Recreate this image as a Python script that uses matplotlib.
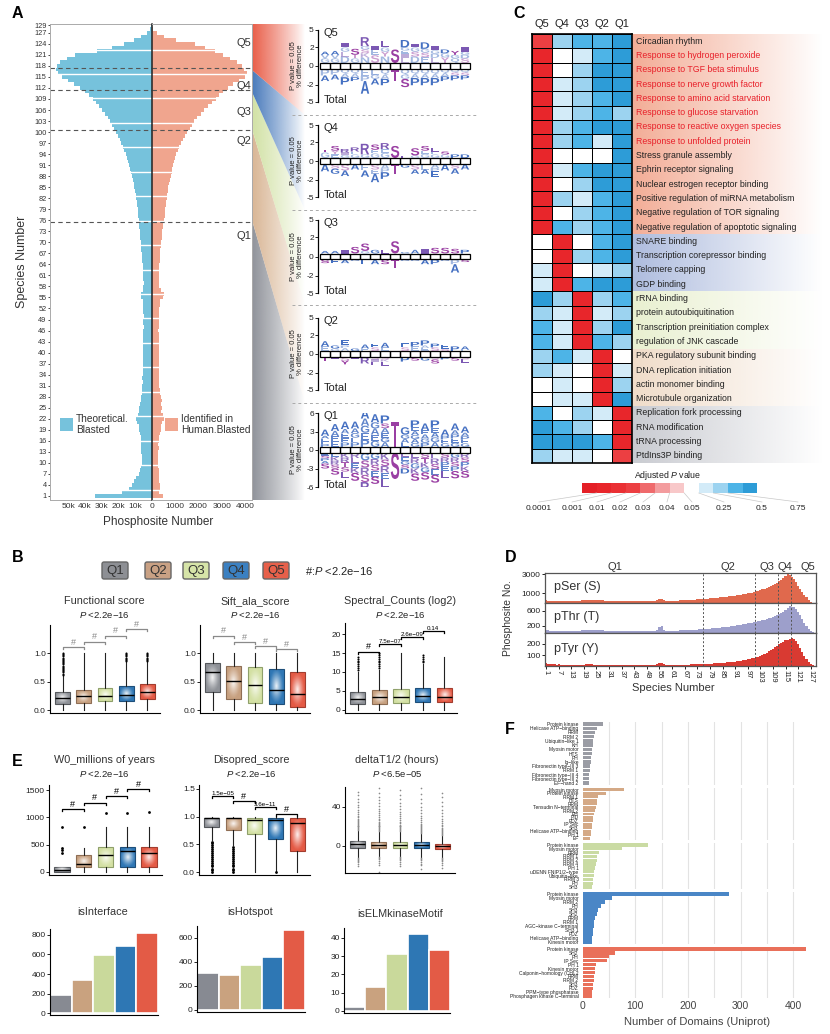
import numpy as np
import matplotlib
matplotlib.use("Agg")
import matplotlib.pyplot as plt
from matplotlib.patches import Rectangle, Polygon, PathPatch, FancyBboxPatch
from matplotlib.textpath import TextPath
from matplotlib.font_manager import FontProperties
from matplotlib.colors import ListedColormap, to_rgb
from matplotlib.transforms import Affine2D
from matplotlib.ticker import NullLocator

plt.rcParams['font.family'] = ['Liberation Sans', 'DejaVu Sans']
plt.rcParams['mathtext.fontset'] = 'custom'
plt.rcParams['mathtext.rm'] = 'Liberation Sans'
plt.rcParams['mathtext.it'] = 'Liberation Sans:italic'
plt.rcParams['axes.linewidth'] = 0.8

# ======================= DATA =======================
quartiles = ['Q1', 'Q2', 'Q3', 'Q4', 'Q5']
quartile_bounds = [75.5, 100.5, 111.5, 117.5]
species = np.arange(1, 130)

theoretical_blasted = [
    34000, 18000, 13500, 12000, 11000, 9500, 7500, 7000, 6500, 6200,
    6000, 6200, 6300, 6500, 6800, 6500, 6800, 7200, 7500, 8000,
    9000, 9500, 8500, 8000, 7500, 7000, 6800, 6500, 6200, 6000,
    5800, 5600, 5700, 5500, 5400, 5600, 5500, 5400, 5300, 5400,
    5200, 5300, 5100, 5200, 5400, 5100, 5000, 5200, 5100, 5000,
    5100, 5300, 5400, 5600, 6500, 6800, 5600, 5200, 5000, 5100,
    5200, 5300, 5400, 5500, 5700, 5900, 6100, 6300, 6500, 6700,
    6900, 7100, 7300, 7500, 7700, 7900, 8100, 8300, 8500, 8800,
    9100, 9400, 9800, 10200, 10600, 11000, 11500, 12000, 12500, 13000,
    13700, 14300, 15000, 15800, 16600, 17400, 18300, 19300, 20300, 21400,
    22500, 23700, 25000, 26500, 28000, 29700, 31500, 33500, 35500, 37800,
    40200, 43000, 46500, 50000, 54000, 56500, 57500, 57000, 55000, 51000,
    46000, 33000, 24000, 17000, 11000, 6500, 3000, 1000, 300]

identified_human = [
    480, 300, 330, 350, 300, 280, 300, 320, 260, 240,
    250, 270, 260, 280, 270, 300, 320, 330, 380, 400,
    450, 520, 480, 400, 420, 380, 430, 400, 350, 330,
    300, 310, 290, 300, 280, 300, 320, 290, 300, 310,
    300, 290, 300, 310, 290, 270, 300, 290, 280, 300,
    310, 320, 330, 350, 480, 500, 380, 300, 290, 300,
    280, 300, 310, 320, 330, 340, 350, 360, 380, 400,
    420, 430, 450, 470, 480, 520, 540, 560, 580, 600,
    620, 640, 660, 680, 700, 730, 760, 800, 840, 880,
    920, 960, 1000, 1050, 1100, 1170, 1250, 1330, 1420, 1520,
    1620, 1720, 1820, 1950, 2100, 2250, 2400, 2580, 2750, 2900,
    3050, 3250, 3480, 3750, 3980, 4080, 3950, 3850, 3650, 3350,
    3050, 2700, 2280, 1850, 1050, 500, 200, 60, 20]

# Sequence logos: per quartile, 15 positions (-7..+7)
logo_Q5 = dict(
    up_main="AAISRILSDIDIDYI",
    up_main_h=[0.4, 0.5, 0.7, 0.8, 1.5, 0.5, 1.0, 1.5, 1.2, 0.6, 1.0, 0.6, 0.5, 0.5, 0.6],
    up_minor=["GV", "GV", "DLG", "GT", "NKSG", "SE", "NYG", "", "LIEG", "DSG", "ESG", "LDG", "YG", "QG", "SDG"],
    up_minor_h=[0.8, 0.8, 1.8, 0.8, 2.0, 1.5, 1.8, 0, 1.8, 1.8, 1.6, 1.4, 1.0, 0.8, 1.2],
    dn_main="AAPPAAPTSPPPPPP",
    dn_main_h=[0.7, 0.6, 1.0, 0.5, 2.0, 0.8, 0.9, 1.3, 1.2, 1.0, 1.0, 1.0, 0.6, 0.6, 0.5],
    dn_minor=["P", "P", "QA", "QA", "EP", "EG", "QA", "", "QG", "QA", "QA", "QA", "QA", "QS", "QS"],
    dn_minor_h=[0.6, 0.5, 0.8, 0.8, 1.3, 1.0, 1.0, 0, 1.0, 0.9, 0.9, 0.9, 0.7, 0.6, 0.6])
logo_Q4 = dict(
    up_main="TSRRRSRSLSSLSPD",
    up_main_h=[0.3, 0.6, 0.4, 0.5, 1.3, 0.7, 0.8, 1.3, 0.2, 0.8, 0.6, 0.4, 0.3, 0.3, 0.3],
    up_minor=["G", "EY", "GI", "GE", "G", "GE", "GE", "", "", "G", "GE", "GE", "G", "", ""],
    up_minor_h=[0.5, 0.7, 0.5, 0.6, 0.3, 0.8, 0.9, 0, 0, 0.2, 0.7, 0.6, 0.3, 0, 0],
    dn_main="AGAAAAPTGAAEAAA",
    dn_main_h=[0.7, 0.6, 0.7, 0.5, 0.8, 1.2, 0.9, 1.0, 0.3, 0.5, 0.5, 0.7, 0.6, 0.6, 0.5],
    dn_minor=["", "S", "S", "", "E", "SE", "AP", "", "", "S", "E", "AP", "", "S", ""],
    dn_minor_h=[0, 0.4, 0.6, 0, 0.6, 1.0, 0.8, 0, 0, 0.5, 0.5, 0.7, 0, 0.4, 0])
logo_Q3 = dict(
    up_main="AAISSGLSGAISSSP",
    up_main_h=[0.2, 0.2, 0.3, 0.6, 0.8, 0.3, 0.3, 1.3, 0.1, 0.3, 0.4, 0.5, 0.5, 0.4, 0.3],
    up_minor=["", "", "", "", "G", "", "", "", "", "", "", "", "", "", ""],
    up_minor_h=[0, 0, 0, 0, 0.2, 0, 0, 0, 0, 0, 0, 0, 0, 0, 0],
    dn_main="SEAGEASTGGAPGAS",
    dn_main_h=[0.3, 0.3, 0.3, 0.1, 0.4, 0.4, 0.4, 0.8, 0.1, 0.1, 0.4, 0.4, 0.1, 1.0, 0.2],
    dn_minor=["", "", "", "", "", "", "", "", "", "", "", "", "", "P", ""],
    dn_minor_h=[0, 0, 0, 0, 0, 0, 0, 0, 0, 0, 0, 0, 0, 0.4, 0])
logo_Q2 = dict(
    up_main="AGEGAEA EPPPEPA",
    up_main_h=[0.6, 0.3, 0.7, 0.2, 0.4, 0.4, 0.5, 0, 0.5, 0.5, 0.6, 0.4, 0.4, 0.4, 0.3],
    up_minor=["E", "G", "AP", "", "E", "S", "E", "", "S", "E", "EA", "S", "S", "", "E"],
    up_minor_h=[0.4, 0.2, 0.5, 0, 0.2, 0.3, 0.3, 0, 0.3, 0.4, 0.5, 0.3, 0.2, 0, 0.1],
    dn_main="TIYIRLL PSGSPSL",
    dn_main_h=[0.3, 0.2, 0.4, 0.2, 0.6, 0.4, 0.5, 0, 0.4, 0.3, 0.3, 0.4, 0.2, 0.3, 0.3],
    dn_minor=["", "", "S", "", "", "SI", "SK", "", "", "", "", "S", "", "", "S"],
    dn_minor_h=[0, 0, 0.3, 0, 0, 0.4, 0.4, 0, 0, 0, 0, 0.2, 0, 0, 0.2])
logo_Q1 = dict(
    up_main="AAAAAAPTGPAPAAA",
    up_main_h=[1.0, 1.1, 1.2, 1.1, 1.4, 1.3, 1.3, 4.0, 1.2, 1.1, 1.1, 1.2, 1.0, 1.1, 1.0],
    up_minor=["PEEA", "EEA", "PEEA", "PEGA", "PEGA", "GEAG", "AGEAS", "", "EAG", "GAGAE", "PGAE", "AGAE", "GEP", "GEPA", "GEPA"],
    up_minor_h=[1.8, 2.6, 2.9, 3.0, 4.6, 4.0, 3.8, 0, 2.0, 3.2, 2.7, 3.1, 1.8, 2.7, 2.3],
    dn_main="SSLSRSLSDSSSLSS",
    dn_main_h=[0.8, 1.0, 1.0, 1.3, 1.5, 1.2, 1.3, 4.2, 0.8, 1.2, 1.2, 1.3, 1.1, 1.2, 1.1],
    dn_minor=["ESPA", "EKRS", "KRTS", "RLEK", "GSRS", "GRSE", "KSRE", "", "LEGS", "LRGK", "STKG", "LRSE", "SRPE", "GRSP", "RSPK"],
    dn_minor_h=[1.7, 2.5, 3.0, 3.2, 4.7, 3.8, 4.2, 0, 2.5, 3.3, 3.1, 3.5, 2.9, 2.9, 2.9])

# Panel C: GO terms and adjusted P-value level (index into legend colours), columns Q5..Q1
go_terms = ["Circadian rhythm", "Response to hydrogen peroxide", "Response to TGF beta stimulus",
            "Response to nerve growth factor", "Response to amino acid starvation",
            "Response to glucose starvation", "Response to reactive oxygen species",
            "Response to unfolded protein", "Stress granule assembly", "Ephrin receptor signaling",
            "Nuclear estrogen receptor binding", "Positive regulation of miRNA metabolism",
            "Negative regulation of TOR signaling", "Negative regulation of apoptotic signaling",
            "SNARE binding", "Transcription corepressor binding", "Telomere capping", "GDP binding",
            "rRNA binding", "protein autoubiquitination", "Transcription preinitiation complex",
            "regulation of JNK cascade", "PKA regulatory subunit binding", "DNA replication initiation",
            "actin monomer binding", "Microtubule organization", "Replication fork processing",
            "RNA modification", "tRNA processing", "PtdIns3P binding"]
go_red_terms = [1, 2, 3, 4, 5, 6, 7]
heat_columns = ['Q5', 'Q4', 'Q3', 'Q2', 'Q1']
heat_levels = [
    [3, 9, 10, 10, 11], [1, 7, 8, 10, 11], [1, 7, 9, 11, 11], [1, 8, 9, 11, 11],
    [1, 8, 9, 10, 11], [1, 8, 9, 10, 9], [1, 9, 10, 11, 11], [1, 9, 10, 8, 11],
    [1, 7, 7, 7, 11], [1, 8, 10, 11, 11], [1, 7, 9, 11, 11], [1, 9, 8, 10, 11],
    [1, 7, 9, 10, 11], [1, 10, 9, 10, 11], [7, 1, 7, 10, 11], [7, 1, 9, 10, 11],
    [8, 1, 7, 8, 9], [8, 1, 10, 11, 11], [11, 9, 1, 9, 10], [9, 8, 1, 8, 9],
    [10, 8, 1, 9, 11], [10, 8, 1, 10, 9], [9, 10, 8, 1, 7], [9, 8, 7, 1, 8],
    [7, 8, 7, 1, 9], [7, 8, 8, 1, 11], [10, 7, 9, 8, 1], [11, 10, 9, 7, 1],
    [11, 11, 11, 10, 1], [9, 8, 8, 7, 3]]
pval_colors = ['#e41f26', '#e8262b', '#ea3034', '#ec3f42', '#ef6a6c', '#f39c9e',
               '#f8c8c9', '#ffffff', '#d3ebf8', '#9cd3f0', '#4db4e7', '#2d9cd7']
pval_labels = ['0.0001', '0.001', '0.01', '0.02', '0.03', '0.04', '0.05', '0.25', '0.5', '0.75']

# Panel B box statistics
B1_q1 = [0.105, 0.13, 0.155, 0.165, 0.19]
B1_med = [0.22, 0.24, 0.25, 0.27, 0.31]
B1_q3 = [0.32, 0.35, 0.38, 0.42, 0.45]
B1_lo = [0, 0, 0, 0, 0]
B1_hi = [0.6, 1.0, 1.0, 0.84, 0.84]
B1_fliers = [[0.62, 0.64, 0.66, 0.68, 0.7, 0.72, 0.74, 0.76, 0.78, 0.8, 0.82, 0.84, 0.86, 0.88, 0.9, 0.92, 0.94, 0.96, 0.98, 1.0],
             [], [], [0.86, 0.88, 0.9, 0.92, 0.94, 0.96, 0.98, 1.0], [0.86, 0.88, 0.9, 0.92, 0.94, 0.96, 0.98, 1.0]]
B1_brackets = [1.10, 1.20, 1.30, 1.42]
B2_q1 = [0.32, 0.19, 0.13, 0.10, 0.05]
B2_med = [0.66, 0.51, 0.44, 0.35, 0.29]
B2_q3 = [0.82, 0.77, 0.75, 0.72, 0.66]
B2_lo = [0, 0, 0, 0, 0]
B2_hi = [1.0, 1.0, 1.0, 1.0, 1.0]
B2_fliers = [[], [], [], [], []]
B2_brackets = [1.30, 1.19, 1.12, 1.07]
B3_q1 = [1.6, 1.6, 1.8, 2.1, 2.1]
B3_med = [2.9, 3.3, 3.3, 3.6, 3.5]
B3_q3 = [4.8, 5.2, 5.5, 5.7, 5.8]
B3_lo = [0, 0, 0, 0, 0]
B3_hi = [10, 10.5, 15, 12, 14]
B3_fliers = [[10.5, 11, 11.5, 12, 12.5, 13, 13.5, 14], [11, 11.5, 12, 12.5, 13, 13.5, 14, 14.5, 15], [],
             [12.5, 13, 13.5, 14, 14.5], []]
B3_brackets = [15.3, 17.4, 19.2, 20.8]
B3_bracket_labels = ['#', '7.5e−07', '2.6e−09', '0.14']

# Panel E box statistics
E1_q1 = [0, 98, 98, 98, 98]
E1_med = [30, 150, 311, 385, 355]
E1_q3 = [100, 311, 452, 452, 452]
E1_lo = [0, 0, 0, 0, 0]
E1_hi = [100, 434, 830, 830, 830]
E1_fliers = [[350, 400, 440, 830], [830], [1090], [1090], [1100]]
E1_brackets = [1148, 1270, 1392, 1520]
E2_q1 = [0.81, 0.76, 0.68, 0.59, 0.38]
E2_med = [0.97, 0.97, 0.94, 0.93, 0.89]
E2_q3 = [0.98, 0.98, 0.98, 0.98, 0.97]
E2_lo = [0.58, 0.48, 0, 0, 0]
E2_hi = [1.0, 1.0, 1.0, 1.0, 1.0]
E2_fliers = [[0.0, 0.03, 0.06, 0.1, 0.13, 0.17, 0.2, 0.24, 0.27, 0.31, 0.34, 0.38, 0.41, 0.45, 0.48, 0.52, 0.55],
             [0.0, 0.03, 0.06, 0.1, 0.13, 0.17, 0.2, 0.24, 0.27, 0.31, 0.34, 0.38, 0.41, 0.45], [], [0.0], []]
E2_brackets = [1.37, 1.28, 1.17, 1.04]
E2_bracket_labels = ['1.5e−05', '#', '3.6e−11', '#']
E3_q1 = [-2.4, -1.7, -1.7, -2.4, -2.7]
E3_med = [2.0, 1.5, 1.5, 1.5, 0.5]
E3_q3 = [5.5, 4.4, 4.4, 3.7, 2.4]
E3_lo = [-11, -10, -10, -11, -11]
E3_hi = [15, 14, 14, 12, 10]
E3_fliers = [
    [16, 17, 18, 19, 20, 21, 22, 23, 24, 25, 26, 27, 28, 30, 31, 33, 35, 37, 40, 42, 45, 48, 52, 55.7, -12, -13, -14, -15, -16, -18, -21],
    [15, 16, 17, 18, 19, 20, 21, 22, 23, 24, 25, 27, 28, 30, 32, 34, 36, 38, 41, 44, 47, 50, 54, 59, -11, -12, -13, -15, -17, -20, -27],
    [15, 16, 17, 18, 19, 20, 21, 22, 24, 25, 27, 29, 31, 33, 35, 38, 41, 44, 48, 52, 57, -11, -12, -13, -14, -16, -18, -21],
    [13, 14, 15, 16, 17, 18, 19, 20, 22, 23, 25, 27, 29, 31, 34, 37, 40, 44, 48, 53, 59, -12, -13, -14, -16, -18, -20, -24],
    [11, 12, 13, 14, 15, 16, 17, 18, 20, 22, 24, 26, 28, 31, 34, 37, 41, 45, 50, 54, -12, -13, -14, -15, -17, -19, -23]]

# Panel E bar charts
isInterface = [180, 340, 590, 685, 825]
isHotspot = [305, 295, 375, 440, 665]
isELMkinaseMotif = [2, 13, 31, 42, 33.5]

# Panel D
pSer = [
    320, 260, 250, 240, 220, 200, 210, 230, 200, 190,
    200, 210, 220, 230, 240, 250, 260, 270, 280, 300,
    320, 340, 310, 290, 280, 270, 290, 280, 260, 250,
    240, 230, 240, 230, 220, 230, 240, 230, 220, 230,
    220, 230, 220, 230, 220, 210, 220, 230, 220, 230,
    240, 250, 260, 280, 380, 400, 300, 250, 240, 230,
    230, 240, 250, 260, 270, 280, 290, 300, 310, 320,
    330, 350, 370, 390, 410, 430, 450, 470, 490, 510,
    530, 550, 570, 590, 610, 630, 660, 690, 720, 750,
    780, 810, 840, 880, 920, 960, 1000, 1050, 1100, 1160,
    1220, 1280, 1350, 1430, 1520, 1610, 1700, 1800, 1900, 2000,
    2150, 2300, 2450, 2650, 2850, 3000, 2900, 2750, 2500, 2200,
    1800, 1500, 1150, 850, 600, 350, 150, 50, 20]
pThr = [
    90, 70, 60, 60, 55, 50, 55, 60, 55, 50,
    50, 55, 55, 60, 60, 65, 65, 70, 70, 75,
    80, 85, 80, 75, 70, 70, 75, 70, 65, 65,
    60, 60, 65, 60, 60, 60, 62, 60, 58, 60,
    58, 60, 58, 60, 58, 56, 58, 60, 58, 60,
    62, 64, 66, 70, 170, 200, 90, 65, 62, 60,
    60, 62, 64, 66, 68, 70, 72, 75, 78, 80,
    84, 88, 92, 96, 100, 105, 110, 115, 120, 125,
    130, 135, 140, 146, 152, 158, 165, 172, 180, 188,
    196, 205, 214, 224, 234, 245, 256, 268, 280, 292,
    305, 318, 332, 346, 360, 376, 392, 410, 430, 450,
    475, 500, 530, 570, 620, 680, 720, 700, 690, 650,
    560, 470, 380, 280, 180, 100, 50, 20, 8]
pTyr = [
    25, 20, 22, 18, 15, 12, 14, 12, 10, 12,
    10, 12, 11, 12, 10, 11, 12, 13, 12, 14,
    15, 16, 14, 12, 11, 10, 12, 11, 10, 10,
    9, 10, 9, 10, 9, 9, 10, 9, 8, 9,
    9, 10, 9, 9, 8, 9, 10, 9, 8, 9,
    10, 11, 12, 14, 25, 28, 14, 10, 9, 9,
    9, 10, 10, 11, 11, 12, 12, 13, 13, 14,
    14, 15, 15, 16, 17, 18, 19, 20, 21, 22,
    23, 24, 25, 26, 28, 30, 32, 34, 36, 38,
    40, 43, 46, 50, 54, 58, 62, 66, 70, 75,
    80, 86, 92, 100, 110, 120, 132, 145, 158, 172,
    185, 198, 210, 222, 232, 240, 248, 252, 245, 230,
    200, 165, 130, 95, 62, 36, 18, 8, 3]

# Panel F: domain counts per quartile
F1_labels = ["Protein kinase", "Helicase ATP−binding", "RRM", "RRM 2", "Ubiquitin−like 1", "KH", "Myosin motor", "HTS",
             "PH", "Ig−like", "Fibronectin type−III 3", "RRM 1", "Fibronectin type−III 4", "Fibronectin type−III 2", "EF−hand 2"]
F1_values = [38, 28, 24, 22, 20, 19, 18, 17, 16, 15, 14, 14, 13, 13, 12]
F2_labels = ["Myosin motor", "Protein kinase", "RRM 1", "HTS", "RRM", "Tensudin N−terminal", "RRM 2", "PH",
             "PID", "PDZ", "IP Sec", "SH3", "Helicase ATP−binding", "PH 1", "EF"]
F2_values = [78, 44, 30, 28, 27, 25, 24, 22, 20, 19, 18, 17, 16, 15, 14]
F3_labels = ["Protein kinase", "Myosin motor", "RRM", "RRM 1", "RRM 2", "RRM 4", "PH 1", "uDENN FNIP1/2−type",
             "Ubiquitin−like", "RRM 3", "PH", "SH3"]
F3_values = [125, 75, 32, 28, 27, 25, 24, 22, 21, 20, 19, 18]
F4_labels = ["Protein kinase", "Myosin motor", "RRM 2", "PH", "SH3", "SH2", "RRM", "RRM 1", "AGC−kinase C−terminal",
             "SH3 1", "PDZ", "Helicase ATP−binding", "Kinesin motor"]
F4_values = [278, 56, 42, 34, 30, 27, 24, 22, 21, 20, 19, 18, 18]
F5_labels = ["Protein kinase", "SH2", "PH", "IP Sec", "PH 1", "Kinesin motor", "Calponin−homology (CH) 2", "RRM",
             "RRM 2", "SH3", "PDZ", "PPM−type phosphatase", "Phosphagen kinase C−terminal"]
F5_values = [425, 62, 50, 46, 25, 24, 23, 22, 21, 20, 19, 18, 18]

# ======================= STYLE =======================
q_fill = ['#8e9197', '#c7a07f', '#d3e0a3', '#2f77b5', '#e45a45']
q_edge = ['#55585c', '#8f6e55', '#8fa06a', '#1e4f7a', '#a33d2f']
q_bar = ['#878a92', '#c9a27f', '#c9d99b', '#2e77b4', '#e35b46']
q_wedge = ['#8a8d95', '#d7b28f', '#cfe0a0', '#3f73b8', '#e8553f']
f_colors = ['#9a9ca4', '#d4a986', '#cadba3', '#4a86c6', '#e9705a']

W, H = 830, 1034
fig = plt.figure(figsize=(8.3, 10.34), dpi=100)


def ax_px(l, t, r, b, **kw):
    return fig.add_axes([l / W, 1 - b / H, (r - l) / W, (b - t) / H], **kw)


def ftext(x, y, s, **kw):
    return fig.text(x / W, 1 - y / H, s, **kw)


under = ax_px(0, 0, W, H, zorder=-5)
under.set_xlim(0, W); under.set_ylim(H, 0); under.axis('off')
over = ax_px(0, 0, W, H, zorder=20)
over.set_xlim(0, W); over.set_ylim(H, 0); over.axis('off')


def grad_poly(ax, pts, color, x0, x1, power=0.8, amax=0.95):
    n = 200
    t = np.linspace(0, 1, n)
    img = np.zeros((2, n, 4))
    img[..., :3] = to_rgb(color)
    img[..., 3] = amax * (1 - t) ** power
    ys = [p[1] for p in pts]
    im = ax.imshow(img, extent=(x0, x1, max(ys), min(ys)), aspect='auto', interpolation='bilinear', zorder=1)
    poly = Polygon(pts, closed=True, transform=ax.transData, facecolor='none', edgecolor='none')
    ax.add_patch(poly)
    im.set_clip_path(poly)


# panel letters
for L, (x, y) in zip('ABCDEF', [(12, 14), (12, 557), (513, 14), (505, 557), (12, 762), (505, 729)]):
    ftext(x, y, L, fontsize=11.5, fontweight='bold', ha='left', va='center')

# ======================= PANEL A =======================
axL = ax_px(50, 24, 152, 500)
axR = ax_px(152, 24, 252, 500)
axL.barh(species, theoretical_blasted, height=1.0, color='#76c2dc', linewidth=0)
axR.barh(species, identified_human, height=1.0, color='#f0a58e', linewidth=0)
axL.set_xlim(61000, 0)
axR.set_xlim(0, 4300)
for a in (axL, axR):
    a.set_ylim(-0.1, 129.4)
    for yy in np.arange(2.75, 129, 6.65):
        a.axhline(yy, color='white', lw=1.0)
    for yb in quartile_bounds:
        a.axhline(yb, color='#555555', lw=0.8, ls=(0, (4, 3)))
    for s in a.spines.values():
        s.set_color('#aaaaaa'); s.set_linewidth(0.7)
axL.spines['right'].set_visible(False)
axR.spines['left'].set_color('#222222'); axR.spines['left'].set_linewidth(1.1)
axL.set_yticks(list(range(1, 128, 3)) + [129])
axL.set_yticklabels([str(v) for v in list(range(1, 128, 3)) + [129]], fontsize=5.3, color='#333333')
axL.tick_params(axis='y', length=1.5, pad=1, width=0.5)
axR.set_yticks([])
axL.set_xticks([50000, 40000, 30000, 20000, 10000, 0])
axL.set_xticklabels(['50k', '40k', '30k', '20k', '10k', '0'], fontsize=6, color='#333333')
axR.set_xticks([1000, 2000, 3000, 4000])
axR.set_xticklabels(['1000', '2000', '3000', '4000'], fontsize=6, color='#333333')
for a in (axL, axR):
    a.tick_params(axis='x', length=0, pad=2)
ftext(158, 522, 'Phosphosite Number', fontsize=8.5, ha='center', va='center', color='#333333')
ftext(22, 262, 'Species Number', fontsize=9, ha='center', va='center', rotation=90, color='#333333')
for q, yq in zip(['Q5', 'Q4', 'Q3', 'Q2', 'Q1'], [43, 86, 112, 141, 236]):
    ftext(244, yq, q, fontsize=8, ha='center', va='center', color='#333333')
over.add_patch(Rectangle((60, 418), 13, 13, facecolor='#76c2dc', edgecolor='none'))
over.text(76, 424.5, 'Theoretical.\nBlasted', fontsize=7.3, ha='left', va='center', color='#333333', linespacing=1.15)
over.add_patch(Rectangle((165, 418), 13, 13, facecolor='#f0a58e', edgecolor='none'))
over.text(181, 424.5, 'Identified in\nHuman.Blasted', fontsize=7.3, ha='left', va='center', color='#333333', linespacing=1.15)

# gradient funnels from butterfly to logos
wedges = [
    [(252, 220), (252, 500), (305, 500), (305, 403)],
    [(252, 129), (252, 220), (305, 403), (305, 305)],
    [(252, 92), (252, 129), (305, 305), (305, 210)],
    [(252, 70), (252, 92), (305, 210), (305, 115)],
    [(252, 24), (252, 70), (305, 115), (305, 24)],
]
for pts, c in zip(wedges, q_wedge):
    grad_poly(under, pts, c, 252, 305, power=0.9, amax=0.95)

# sequence logos
logo_font = FontProperties(family='Liberation Sans', weight='bold')


def letter_color(ch):
    if ch in 'AGPEDQNVC':
        return '#4570c2'
    if ch in 'STY':
        return '#9a3fa3'
    return '#7b58b3'


def draw_glyph(ax, ch, xc, y0, y1, alpha=1.0, w=0.84):
    if y1 - y0 <= 0 or ch.strip() == '':
        return
    tp = TextPath((0, 0), ch, size=10, prop=logo_font)
    bb = tp.get_extents()
    tr = Affine2D().translate(-bb.x0, -bb.y0).scale(w / bb.width, (y1 - y0) / bb.height).translate(xc - w / 2, y0)
    ax.add_patch(PathPatch(tr.transform_path(tp), facecolor=letter_color(ch), edgecolor='none', alpha=alpha, lw=0))


def draw_stack(ax, xc, minor, minor_h, main, main_h, base, sign, minor_alpha):
    seq = []
    if minor and minor_h > 0:
        for ch in minor:
            seq.append((ch, minor_h / len(minor), minor_alpha))
    if main.strip() and main_h > 0:
        seq.append((main, main_h, 1.0))
    y = base
    for ch, hh, al in seq:
        if sign > 0:
            draw_glyph(ax, ch, xc, y, y + hh, al); y += hh
        else:
            draw_glyph(ax, ch, xc, y - hh, y, al); y -= hh


def fwd(y):
    y = np.asarray(y, dtype=float)
    return np.sign(y) * np.abs(y) ** 0.7


def inv(y):
    y = np.asarray(y, dtype=float)
    return np.sign(y) * np.abs(y) ** (1 / 0.7)


logo_specs = [('Q5', logo_Q5, (30, 102), False), ('Q4', logo_Q4, (125, 197), False),
              ('Q3', logo_Q3, (220, 293), False), ('Q2', logo_Q2, (318, 390), False),
              ('Q1', logo_Q1, (413, 487), True)]
for name, lg, (t, b), linear in logo_specs:
    ax = ax_px(318, t, 480, b)
    ax.patch.set_alpha(0)
    if linear:
        ax.set_ylim(-6, 6)
        ticks = [6, 3, 0, -3, -6]
        bh = 0.5
        malpha = 0.85
    else:
        ax.set_yscale('function', functions=(fwd, inv))
        ax.set_ylim(-5, 5)
        ticks = [5, 2, 0, -2, -5]
        bh = 0.14
        malpha = 0.5
    ax.set_xlim(0.3, 16.5)
    ax.set_yticks(ticks)
    ax.set_yticklabels([str(v) for v in ticks], fontsize=6, color='#222222')
    ax.yaxis.set_minor_locator(NullLocator())
    ax.tick_params(axis='y', length=2, width=0.6, pad=1)
    ax.set_xticks([])
    for s in ['top', 'right', 'bottom']:
        ax.spines[s].set_visible(False)
    ax.spines['left'].set_linewidth(0.9)
    ax.set_ylabel('P value = 0.05\n% difference', fontsize=5.5, labelpad=1.5, linespacing=1.1, color='#222222')
    for i in range(15):
        xc = i + 1
        ax.add_patch(Rectangle((xc - 0.5, -bh), 1.0, 2 * bh, fill=False, edgecolor='black', lw=0.9, zorder=3))
        draw_stack(ax, xc, lg['up_minor'][i], lg['up_minor_h'][i], lg['up_main'][i], lg['up_main_h'][i], bh, +1, malpha)
        draw_stack(ax, xc, lg['dn_minor'][i], lg['dn_minor_h'][i], lg['dn_main'][i], lg['dn_main_h'][i], -bh, -1, malpha)
    ax.text(0.035, 0.96, name, transform=ax.transAxes, fontsize=8, va='center', ha='left', color='#222222')
    ax.text(0.035, 0.03, 'Total', transform=ax.transAxes, fontsize=8, va='center', ha='left', color='#222222')
for yd in [115, 210, 305, 403]:
    over.plot([292, 478], [yd, yd], color='#aaaaaa', lw=0.7, ls=(0, (3, 3)))

# ======================= PANEL C =======================
row_h = (463 - 34) / 30.0
groups = [(0, 14, '#f3ad96'), (14, 18, '#aebcde'), (18, 22, '#e9f0d0'), (22, 26, '#f0dcc9'), (26, 30, '#c9cbd1')]
for r0, r1, c in groups:
    y0 = 34 + r0 * row_h
    y1 = 34 + r1 * row_h
    grad_poly(under, [(632, y0), (632, y1), (822, y1), (822, y0)], c, 632, 822, power=1.0, amax=1.0)
axC = ax_px(532, 34, 632, 463)
M = np.array(heat_levels)
axC.pcolormesh(np.arange(6), np.arange(31), M, cmap=ListedColormap(pval_colors), vmin=-0.5, vmax=11.5,
               edgecolors='black', linewidth=0.7)
axC.set_xlim(0, 5); axC.set_ylim(30, 0)
axC.set_xticks([]); axC.set_yticks([])
for s in axC.spines.values():
    s.set_linewidth(1.2)
for j, q in enumerate(heat_columns):
    axC.text(j + 0.5, -0.35, q, ha='center', va='bottom', fontsize=8, color='#222222')
for i, term in enumerate(go_terms):
    axC.text(5.2, i + 0.5, term, ha='left', va='center', fontsize=6.3,
             color='#e8202a' if i in go_red_terms else '#222222', clip_on=False)
# legend colourbar
bx0, bw = 582, 14.6
for k, c in enumerate(pval_colors):
    over.add_patch(Rectangle((bx0 + k * bw, 483), bw, 10, facecolor=c, edgecolor='none'))
over.text(668, 475, 'Adjusted $P$ value', fontsize=6.3, ha='center', va='center', color='#222222')
label_x = [539, 572, 597, 620, 643, 667, 692, 724, 762, 798]
for k, (lab, lx) in enumerate(zip(pval_labels, label_x)):
    over.plot([bx0 + (k + 1) * bw, lx], [493, 502], color='#c8c8c8', lw=0.5)
    over.text(lx, 508, lab, fontsize=6, ha='center', va='center', color='#222222')

# ======================= PANEL B =======================
leg_x = [102, 145, 183, 223, 263]
leg_face = ['#8d8f94', '#c9a184', '#d6e4a8', '#3b80c1', '#e7604a']
for q, x, c in zip(quartiles, leg_x, leg_face):
    over.add_patch(FancyBboxPatch((x, 562), 26, 17, boxstyle='round,pad=0,rounding_size=2',
                                  facecolor=c, edgecolor='#666666', lw=1.0))
    over.text(x + 13, 571, q, fontsize=9.5, ha='center', va='center', color='#333333')
over.text(305, 571, r'#:$P$ <2.2e−16', fontsize=8, ha='left', va='center', color='#222222')


def box_glow(ax, patch, x, w, q1, q3):
    ny, nx = 40, 20
    yy, xx = np.mgrid[-1:1:ny * 1j, -1:1:nx * 1j]
    r = np.sqrt(xx ** 2 + yy ** 2)
    img = np.ones((ny, nx, 4))
    img[..., 3] = np.clip(1 - r, 0, 1) ** 1.2 * 0.92
    im = ax.imshow(img, extent=(x - w / 2, x + w / 2, q1, q3), aspect='auto', interpolation='bilinear', zorder=2.5)
    im.set_clip_path(patch)


def box_panel(ax, q1, med, q3, lo, hi, fliers, ylim, yticks, yticklabels, flier_color='black', ms=1.5):
    stats = [dict(q1=a, med=b, q3=c, whislo=d, whishi=e, fliers=f)
             for a, b, c, d, e, f in zip(q1, med, q3, lo, hi, fliers)]
    bp = ax.bxp(stats, positions=[1, 2, 3, 4, 5], widths=0.7, patch_artist=True, showcaps=False,
                manage_ticks=False, boxprops=dict(linewidth=0.8),
                whiskerprops=dict(color='#222222', linewidth=0.8),
                medianprops=dict(color='black', linewidth=1.0),
                flierprops=dict(marker='o', markersize=ms, markerfacecolor=flier_color,
                                markeredgecolor='none', linestyle='none'))
    for k, patch in enumerate(bp['boxes']):
        patch.set_facecolor(q_fill[k]); patch.set_edgecolor(q_edge[k]); patch.set_zorder(2)
        box_glow(ax, patch, k + 1, 0.7, q1[k], q3[k])
    for m in bp['medians']:
        m.set_zorder(4)
    ax.set_xlim(0.4, 5.6); ax.set_ylim(*ylim)
    ax.set_yticks(yticks); ax.set_yticklabels(yticklabels, fontsize=6, color='#222222')
    ax.set_xticks([])
    ax.spines['top'].set_visible(False); ax.spines['right'].set_visible(False)
    ax.tick_params(axis='y', length=2, width=0.6, pad=1)


def bracket(ax, i, j, y, txt, color, fs, drop):
    ax.plot([i, i, j, j], [y - drop, y, y, y - drop], color=color, lw=0.9, clip_on=False)
    ax.text((i + j) / 2, y + drop * 0.2, txt, ha='center', va='bottom', fontsize=fs, color=color, clip_on=False)


def titles(x, y, t1, t2):
    ftext(x, y, t1, fontsize=7.8, ha='center', va='center', color='#333333')
    if t2:
        ftext(x, y + 14, t2, fontsize=6.8, ha='center', va='center', color='#222222')


axB1 = ax_px(50, 625, 160, 713)
box_panel(axB1, B1_q1, B1_med, B1_q3, B1_lo, B1_hi, B1_fliers, (-0.05, 1.49), [0, 0.5, 1.0], ['0.0', '0.5', '1.0'])
for k, yb in enumerate(B1_brackets):
    bracket(axB1, k + 1, k + 2, yb, '#', '#8a8a8a', 6.5, 0.035)
titles(104, 601, 'Functional score', r'$P$ <2.2e−16')

axB2 = ax_px(200, 625, 310, 713)
box_panel(axB2, B2_q1, B2_med, B2_q3, B2_lo, B2_hi, B2_fliers, (-0.05, 1.49), [0, 0.5, 1.0], ['0.0', '0.5', '1.0'])
for k, yb in enumerate(B2_brackets):
    bracket(axB2, k + 1, k + 2, yb, '#', '#8a8a8a', 6.5, 0.035)
titles(255, 601, 'Sift_ala_score', r'$P$ <2.2e−16')

axB3 = ax_px(345, 623, 457, 713)
box_panel(axB3, B3_q1, B3_med, B3_q3, B3_lo, B3_hi, B3_fliers, (-0.8, 22.9), [0, 5, 10, 15, 20],
          ['0', '5', '10', '15', '20'])
for k, (yb, lab) in enumerate(zip(B3_brackets, B3_bracket_labels)):
    bracket(axB3, k + 1, k + 2, yb, lab, 'black', 6.5 if lab == '#' else 4.5, 0.5)
titles(400, 601, 'Spectral_Counts (log2)', r'$P$ <2.2e−16')

# ======================= PANEL E =======================
axE1 = ax_px(49, 785, 162, 875)
box_panel(axE1, E1_q1, E1_med, E1_q3, E1_lo, E1_hi, E1_fliers, (-55, 1594), [0, 500, 1000, 1500],
          ['0', '500', '1000', '1500'], ms=2.0)
for k, yb in enumerate(E1_brackets):
    bracket(axE1, k + 1, k + 2, yb, '#', 'black', 6.5, 35)
titles(104, 760, 'W0_millions of years', r'$P$ <2.2e−16')

axE2 = ax_px(199, 785, 310, 875)
box_panel(axE2, E2_q1, E2_med, E2_q3, E2_lo, E2_hi, E2_fliers, (-0.054, 1.57), [0, 0.5, 1.0, 1.5],
          ['0.0', '0.5', '1.0', '1.5'], ms=2.0)
for k, (yb, lab) in enumerate(zip(E2_brackets, E2_bracket_labels)):
    bracket(axE2, k + 1, k + 2, yb, lab, 'black', 6.5 if lab == '#' else 4.5, 0.035)
titles(251, 760, 'Disopred_score', r'$P$ <2.2e−16')

axE3 = ax_px(345, 787, 455, 873)
box_panel(axE3, E3_q1, E3_med, E3_q3, E3_lo, E3_hi, E3_fliers, (-27.7, 60.5), [0, 40], ['0', '40'],
          flier_color='#8a8a8a', ms=1.2)
titles(397, 760, 'deltaT1/2 (hours)', r'$P$ <6.5e−05')


def bar_panel(ax, vals, ylim, yticks):
    ax.bar(np.arange(1, 6), vals, width=1.0, color=q_bar, edgecolor='white', linewidth=1.2)
    ax.set_xlim(0.5, 5.5); ax.set_ylim(*ylim)
    ax.set_yticks(yticks); ax.set_yticklabels([str(v) for v in yticks], fontsize=6, color='#222222')
    ax.set_xticks([])
    ax.spines['top'].set_visible(False); ax.spines['right'].set_visible(False)
    ax.tick_params(axis='y', length=2, width=0.6, pad=1)


axE4 = ax_px(50, 929, 158, 1015)
bar_panel(axE4, isInterface, (-20, 861), [0, 200, 400, 600, 800])
titles(103, 912, 'isInterface', None)
axE5 = ax_px(197, 926, 305, 1012)
bar_panel(axE5, isHotspot, (-17, 700), [0, 200, 400, 600])
titles(250, 912, 'isHotspot', None)
axE6 = ax_px(344, 928, 450, 1013)
bar_panel(axE6, isELMkinaseMotif, (-1.1, 45.4), [0, 10, 20, 30, 40])
titles(400, 914, 'isELMkinaseMotif', None)

# ======================= PANEL D =======================
d_specs = [(573, 603, pSer, '#e0694d', (0, 3150), [1000, 3000], 'pSer (S)'),
           (603, 633, pThr, '#9d9fcb', (0, 800), [200, 600], 'pThr (T)'),
           (633, 666, pTyr, '#d93a32', (0, 300), [100, 200], 'pTyr (Y)')]
for k, (t, b, vals, c, yl, yt, lab) in enumerate(d_specs):
    ax = ax_px(545, t, 816, b)
    ax.bar(species, vals, width=1.0, color=c, linewidth=0)
    ax.set_xlim(0.5, 129.5); ax.set_ylim(*yl)
    ax.set_yticks(yt); ax.set_yticklabels([str(v) for v in yt], fontsize=6, color='#222222')
    ax.tick_params(axis='y', length=2, width=0.6, pad=1)
    for xb in quartile_bounds:
        ax.axvline(xb, color='#555555', lw=0.7, ls=(0, (2, 2)))
    for s in ax.spines.values():
        s.set_color('#555555'); s.set_linewidth(0.9)
    ax.text(0.035, 0.52, lab, transform=ax.transAxes, fontsize=9, va='center', ha='left', color='#333333')
    if k == 2:
        ticks = list(range(1, 130, 6))
        ax.set_xticks(ticks)
        ax.set_xticklabels([str(v) for v in ticks], rotation=270, fontsize=5.5, color='#222222')
        ax.tick_params(axis='x', length=2, width=0.6, pad=1)
    else:
        ax.set_xticks([])
for q, xq in zip(quartiles, [615, 728, 767, 785, 808]):
    ftext(xq, 567, q, fontsize=8, ha='center', va='center', color='#333333')
ftext(508, 618, 'Phosphosite No.', fontsize=7.5, ha='center', va='center', rotation=90, color='#333333')
ftext(673, 688, 'Species Number', fontsize=8, ha='center', va='center', color='#333333')

# ======================= PANEL F =======================
F_sets = [(F1_labels, F1_values), (F2_labels, F2_values), (F3_labels, F3_values),
          (F4_labels, F4_values), (F5_labels, F5_values)]
F_boxes = [(722, 785), (788, 840), (843, 889), (892, 944), (947, 998)]
for k, ((labs, vals), (t, b)) in enumerate(zip(F_sets, F_boxes)):
    ax = ax_px(580, t, 810, b)
    n = len(vals)
    for gx in range(50, 401, 50):
        ax.axvline(gx, color='#e3e3e3', lw=0.8, zorder=0)
    ax.barh(np.arange(n), vals, height=0.85, color=f_colors[k], linewidth=0, zorder=2)
    ax.set_ylim(n - 0.5, -0.5); ax.set_xlim(-5, 432)
    ax.set_yticks(np.arange(n)); ax.set_yticklabels(labs, fontsize=3.5, color='#222222')
    ax.tick_params(axis='y', length=0, pad=1)
    for s in ax.spines.values():
        s.set_visible(False)
    if k == 4:
        ax.set_xticks([0, 100, 200, 300, 400])
        ax.set_xticklabels(['0', '100', '200', '300', '400'], fontsize=7.5, color='#444444')
        ax.tick_params(axis='x', length=0, pad=2)
    else:
        ax.set_xticks([])
ftext(697, 1022, 'Number of Domains (Uniprot)', fontsize=8, ha='center', va='center', color='#444444')

fig.savefig('out.png', dpi=100)
